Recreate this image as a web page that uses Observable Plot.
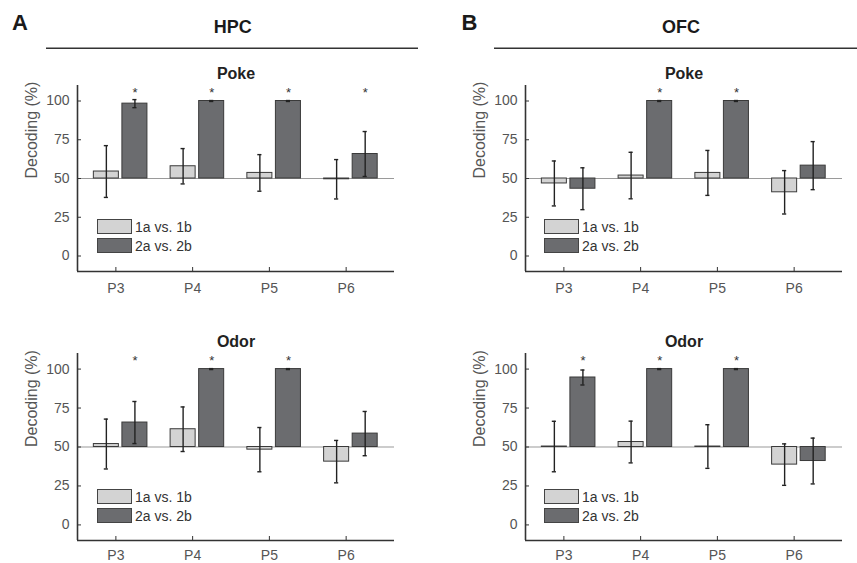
<!DOCTYPE html>
<html><head><meta charset="utf-8">
<script src="https://cdn.jsdelivr.net/npm/d3@7"></script>
<script src="https://cdn.jsdelivr.net/npm/@observablehq/plot@0.6"></script>
<style>
body{margin:0;background:#fff;}
#root{position:relative;width:857px;height:563px;overflow:hidden;background:#fff;font-family:Arial,'Liberation Sans',Helvetica,sans-serif;}
#root svg{position:absolute;max-width:none;}
</style></head><body><div id="root"></div>
<script>
// ---- data ----
const categories = ["P3", "P4", "P5", "P6"];
const seriesNames = ["1a vs. 1b", "2a vs. 2b"];
const yTicks = [0, 25, 50, 75, 100];
const regions = ["HPC", "OFC"];
const regionLetters = ["A", "B"];
const epochs = ["Poke", "Odor"];
const yLabel = "Decoding (%)";
const chance = 50;
const sigLevel = 105;

const hpcPoke1 = [54.5, 57.9, 53.6, 49.5];
const hpcPoke1Err = [16.7, 11.4, 11.8, 12.7];
const hpcPoke2 = [98.3, 100, 100, 65.8];
const hpcPoke2Err = [2.6, 0.3, 0.3, 14.5];
const hpcPokeSig = [true, true, true, true];

const ofcPoke1 = [46.8, 51.9, 53.6, 41.1];
const ofcPoke1Err = [14.5, 15.0, 14.5, 14.0];
const ofcPoke2 = [43.4, 100, 100, 58.3];
const ofcPoke2Err = [13.5, 0.3, 0.3, 15.5];
const ofcPokeSig = [false, true, true, false];

const hpcOdor1 = [51.9, 61.4, 48.3, 40.6];
const hpcOdor1Err = [16.0, 14.3, 14.2, 13.6];
const hpcOdor2 = [65.7, 100, 100, 58.6];
const hpcOdor2Err = [13.5, 0.3, 0.3, 14.2];
const hpcOdorSig = [true, true, true, false];

const ofcOdor1 = [50.3, 53.2, 50.3, 38.7];
const ofcOdor1Err = [16.2, 13.4, 14.0, 13.3];
const ofcOdor2 = [94.6, 100, 100, 41.0];
const ofcOdor2Err = [4.8, 0.3, 0.3, 14.7];
const ofcOdorSig = [true, true, true, false];

// ---- style ----
const fills = ["#d3d3d3", "#6b6c6f"];
const FONT = "Arial, 'Liberation Sans', Helvetica, sans-serif";
const cols = [{left: 0, width: 430, mL: 77, mR: 36}, {left: 430, width: 427, mL: 95, mR: 15}];
const rowsG = [{top: 0, height: 300, mT: 85, mB: 29, pad: 16}, {top: 300, height: 263, mT: 53, mB: 23, pad: 14}];
const root = document.getElementById("root");

function panel(col, row, title, s1, e1, s2, e2, sig) {
  const data = [];
  categories.forEach((c, i) => {
    data.push({i: i + 1, s: 0, v: s1[i], e: e1[i], sig: false});
    data.push({i: i + 1, s: 1, v: s2[i], e: e2[i], sig: sig[i]});
  });
  const off = [-0.124, 0.248], hw = 0.163, cap = 0.027;
  const cx = d => d.i + off[d.s];
  const C = cols[col], R = rowsG[row];
  const svg = Plot.plot({
    width: C.width, height: R.height,
    marginTop: R.mT, marginBottom: R.mB, marginLeft: C.mL, marginRight: C.mR,
    style: {fontFamily: FONT, fontSize: "14px", background: "transparent", color: "#555", overflow: "visible"},
    x: {type: "linear", domain: [0.5, 4.63]},
    y: {domain: [-10, 110]},
    marks: [
      Plot.ruleY([chance], {stroke: "#9a9a9a", strokeWidth: 1.2}),
      Plot.rect(data, {x1: d => cx(d) - hw, x2: d => cx(d) + hw, y1: () => chance, y2: "v",
        fill: d => fills[d.s], stroke: "#3a3a3a", strokeWidth: 1}),
      Plot.ruleX(data, {x: cx, y1: d => d.v - d.e, y2: d => d.v + d.e, stroke: "#222", strokeWidth: 1.4}),
      Plot.ruleY(data, {y: d => d.v + d.e, x1: d => cx(d) - cap, x2: d => cx(d) + cap, stroke: "#222", strokeWidth: 1.4}),
      Plot.ruleY(data, {y: d => d.v - d.e, x1: d => cx(d) - cap, x2: d => cx(d) + cap, stroke: "#222", strokeWidth: 1.4}),
      Plot.text(data.filter(d => d.sig), {x: cx, y: () => sigLevel, text: () => "*", fontSize: 13, fill: "#333"}),
      Plot.ruleX([0.5], {stroke: "#333", strokeWidth: 1.6}),
      Plot.ruleY([-10], {stroke: "#333", strokeWidth: 1.6}),
      Plot.axisY({ticks: yTicks, tickSize: -4, tickPadding: 12, label: null, stroke: "#333", fill: "#555", fontSize: 14}),
      Plot.axisX({ticks: [1, 2, 3, 4], tickFormat: d => categories[d - 1], tickSize: -4, tickPadding: R.pad,
        label: null, stroke: "#333", fill: "#555", fontSize: 14}),
      Plot.text([title], {frameAnchor: "top", dy: -7, lineAnchor: "bottom", fontWeight: "bold", fontSize: 16, fill: "#222"}),
      Plot.text([yLabel], {frameAnchor: "left", rotate: -90, dx: -46, fontSize: 16, fill: "#555"})
    ]
  });
  svg.style.left = C.left + "px";
  svg.style.top = R.top + "px";
  root.appendChild(svg);
}

panel(0, 0, epochs[0], hpcPoke1, hpcPoke1Err, hpcPoke2, hpcPoke2Err, hpcPokeSig);
panel(1, 0, epochs[0], ofcPoke1, ofcPoke1Err, ofcPoke2, ofcPoke2Err, ofcPokeSig);
panel(0, 1, epochs[1], hpcOdor1, hpcOdor1Err, hpcOdor2, hpcOdor2Err, hpcOdorSig);
panel(1, 1, epochs[1], ofcOdor1, ofcOdor1Err, ofcOdor2, ofcOdor2Err, ofcOdorSig);

// ---- headers and legends overlay ----
const ov = d3.select(root).append("svg").attr("width", 857).attr("height", 563)
  .style("left", "0px").style("top", "0px").style("font-family", FONT).style("pointer-events", "none");
const heads = [{lx: 12, cx: 232.7, x1: 46, x2: 418}, {lx: 461.5, cx: 681, x1: 494, x2: 857}];
heads.forEach((h, k) => {
  ov.append("text").attr("x", h.lx).attr("y", 29.5).attr("font-size", 22).attr("font-weight", "bold").attr("fill", "#1a1a1a").text(regionLetters[k]);
  ov.append("text").attr("x", h.cx).attr("y", 33.3).attr("text-anchor", "middle").attr("font-size", 18).attr("font-weight", "bold").attr("fill", "#1a1a1a").text(regions[k]);
  ov.append("line").attr("x1", h.x1).attr("x2", h.x2).attr("y1", 48.3).attr("y2", 48.3).attr("stroke", "#333").attr("stroke-width", 1.5);
});
const legX = [97, 544], legY = [219, 489];
legX.forEach(lx => legY.forEach(ly => {
  seriesNames.forEach((name, j) => {
    const y = ly + j * 19;
    ov.append("rect").attr("x", lx + 0.5).attr("y", y + 0.5).attr("width", 34).attr("height", 14)
      .attr("fill", fills[j]).attr("stroke", "#444").attr("stroke-width", 1);
    ov.append("text").attr("x", lx + 38).attr("y", y + 12.5).attr("font-size", 14).attr("fill", "#333").text(name);
  });
}));
</script></body></html>
